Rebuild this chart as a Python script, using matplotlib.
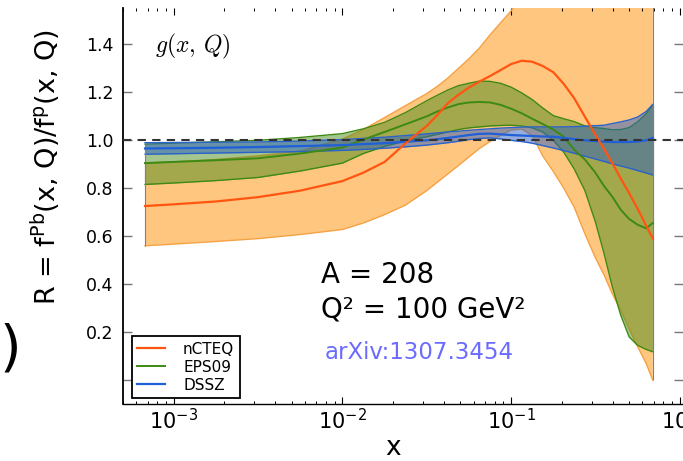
import numpy as np
import matplotlib
matplotlib.use("Agg")
import matplotlib.pyplot as plt
from matplotlib.ticker import LogLocator, NullFormatter

plt.rcParams['font.family'] = ['DejaVu Sans']
plt.rcParams['mathtext.fontset'] = 'dejavusans'

# data (x grid shared by every curve)
x = [6.76e-4, 1.0e-3, 1.78e-3, 3.16e-3, 5.62e-3, 0.0100, 0.0133, 0.0178,
     0.0237, 0.0316, 0.0365, 0.0422, 0.0487, 0.0562, 0.0649, 0.0750, 0.0866,
     0.100, 0.1155, 0.1334, 0.154, 0.178, 0.2054, 0.237, 0.274, 0.316, 0.355,
     0.398, 0.447, 0.501, 0.562, 0.631, 0.692]

ncteq_c  = [0.726, 0.733, 0.745, 0.763, 0.790, 0.830, 0.865, 0.910, 0.988,
            1.060, 1.105, 1.155, 1.190, 1.220, 1.245, 1.268, 1.293, 1.318,
            1.332, 1.328, 1.310, 1.284, 1.235, 1.175, 1.098, 1.023, 0.965,
            0.905, 0.840, 0.780, 0.715, 0.645, 0.590]
ncteq_hi = [0.905, 0.910, 0.920, 0.935, 0.955, 1.005, 1.045, 1.095, 1.145,
            1.195, 1.225, 1.260, 1.300, 1.340, 1.385, 1.440, 1.490, 1.540,
            1.600, 1.660, 1.710, 1.760, 1.800, 1.850, 1.880, 1.910, 1.930,
            1.950, 1.970, 1.980, 1.990, 2.000, 2.000]
ncteq_lo = [0.560, 0.567, 0.578, 0.590, 0.607, 0.628, 0.655, 0.690, 0.730,
            0.790, 0.825, 0.860, 0.895, 0.930, 0.966, 0.995, 1.020, 1.043,
            1.047, 1.020, 0.935, 0.870, 0.800, 0.720, 0.610, 0.510, 0.440,
            0.360, 0.290, 0.213, 0.140, 0.070, 0.000]

eps_c  = [0.905, 0.910, 0.917, 0.925, 0.945, 0.970, 1.003, 1.035, 1.067,
          1.100, 1.120, 1.137, 1.151, 1.158, 1.160, 1.158, 1.148, 1.132,
          1.113, 1.090, 1.068, 1.045, 1.015, 0.960, 0.920, 0.865, 0.810,
          0.765, 0.710, 0.672, 0.648, 0.633, 0.655]
eps_hi = [0.984, 0.988, 0.994, 1.000, 1.012, 1.028, 1.048, 1.075, 1.116,
          1.165, 1.188, 1.210, 1.228, 1.238, 1.247, 1.246, 1.238, 1.222,
          1.198, 1.170, 1.135, 1.103, 1.090, 1.078, 1.060, 1.053, 1.049,
          1.044, 1.045, 1.053, 1.077, 1.110, 1.147]
eps_lo = [0.816, 0.822, 0.832, 0.845, 0.872, 0.905, 0.945, 0.975, 0.998,
          1.015, 1.025, 1.035, 1.045, 1.052, 1.056, 1.060, 1.062, 1.063,
          1.060, 1.052, 1.035, 1.000, 0.950, 0.880, 0.790, 0.660, 0.530,
          0.390, 0.270, 0.180, 0.145, 0.128, 0.118]

dssz_c  = [0.966, 0.967, 0.969, 0.972, 0.976, 0.980, 0.984, 0.988, 0.994,
           1.000, 1.005, 1.010, 1.016, 1.022, 1.027, 1.028, 1.025, 1.022,
           1.020, 1.018, 1.016, 1.015, 1.010, 1.005, 1.000, 0.997, 0.994,
           0.993, 0.993, 0.993, 0.995, 1.000, 1.010]
dssz_hi = [0.990, 0.991, 0.992, 0.993, 0.997, 1.003, 1.008, 1.013, 1.020,
           1.027, 1.031, 1.035, 1.038, 1.042, 1.045, 1.048, 1.051, 1.053,
           1.055, 1.056, 1.056, 1.056, 1.056, 1.057, 1.059, 1.061, 1.063,
           1.070, 1.077, 1.085, 1.097, 1.120, 1.150]
dssz_lo = [0.942, 0.944, 0.947, 0.950, 0.953, 0.958, 0.962, 0.967, 0.973,
           0.980, 0.985, 0.990, 0.996, 1.003, 1.008, 1.010, 1.006, 1.000,
           0.995, 0.988, 0.978, 0.968, 0.957, 0.946, 0.934, 0.922, 0.912,
           0.902, 0.893, 0.884, 0.874, 0.864, 0.855]

yticks = [0.0, 0.2, 0.4, 0.6, 0.8, 1.0, 1.2, 1.4]
ytick_labels = ['', '0.2', '0.4', '0.6', '0.8', '1.0', '1.2', '1.4']
names = ['nCTEQ', 'EPS09', 'DSSZ']

x = np.array(x)

fig = plt.figure(figsize=(6.83, 4.61), dpi=100)
ax = fig.add_axes([0.180, 0.1236, 0.820, 0.858])

# bands
ax.fill_between(x, ncteq_lo, ncteq_hi, color='#ffc680', lw=0, zorder=1)
ax.plot(x, ncteq_hi, color='#f5a244', lw=1.0, zorder=2)
ax.plot(x, ncteq_lo, color='#f5a244', lw=1.0, zorder=2)

ax.fill_between(x, eps_lo, eps_hi, color='#4a8c1c', alpha=0.5, lw=0, zorder=3)
ax.plot(x, eps_hi, color='#3d8a12', lw=1.0, zorder=4)
ax.plot(x, eps_lo, color='#3d8a12', lw=1.0, zorder=4)

ax.fill_between(x, dssz_lo, dssz_hi, color='#2a5fc0', alpha=0.5, lw=0, zorder=5)
ax.plot(x, dssz_hi, color='#2a62cc', lw=1.0, zorder=6)
ax.plot(x, dssz_lo, color='#2a62cc', lw=1.0, zorder=6)

# end caps of the bands
for lo, hi in [(ncteq_lo, ncteq_hi), (eps_lo, eps_hi), (dssz_lo, dssz_hi)]:
    ax.vlines([x[0], x[-1]], [lo[0], lo[-1]], [hi[0], hi[-1]],
              color='#808080', lw=0.8, zorder=6)

# central values
l1, = ax.plot(x, ncteq_c, color='#ff5511', lw=1.6, zorder=8)
l2, = ax.plot(x, eps_c, color='#3d8a12', lw=1.4, zorder=7)
l3, = ax.plot(x, dssz_c, color='#1f5fd8', lw=1.6, zorder=7)

ax.axhline(1.0, color='#333333', lw=1.5, ls=(0, (4, 3)), zorder=9)

ax.set_xscale('log')
ax.set_xlim(5e-4, 1.045)
ax.set_ylim(-0.1, 1.55)
ax.set_yticks(yticks)
ax.set_yticklabels(ytick_labels)
ax.xaxis.set_minor_locator(LogLocator(base=10, subs=np.arange(2, 10)))
ax.xaxis.set_minor_formatter(NullFormatter())

ax.tick_params(axis='both', which='both', direction='in', top=True, right=True)
ax.tick_params(axis='y', which='major', length=6.5, width=1.0, color='#777777',
               labelsize=12.5, pad=7)
ax.tick_params(axis='x', which='major', length=5, width=0.8, labelsize=15, pad=3)
ax.tick_params(axis='x', which='minor', length=2.5, width=0.7)

ax.spines['top'].set_visible(False)
ax.spines['right'].set_visible(False)
ax.spines['left'].set_linewidth(1.3)
ax.spines['bottom'].set_linewidth(1.0)

leg = ax.legend([l1, l2, l3], names, loc='lower left',
                bbox_to_anchor=(0.016, 0.015), borderaxespad=0,
                fontsize=11, handlelength=1.8, handletextpad=1.2,
                labelspacing=0.2, borderpad=0.35, fancybox=False,
                framealpha=1, edgecolor='black')
leg.get_frame().set_linewidth(1.3)
leg.set_zorder(20)

ax.text(0.057, 0.89, r'$g(x,\,Q)$', transform=ax.transAxes, fontsize=17,
        math_fontfamily='cm', va='baseline')
ax.text(0.353, 0.306, 'A = 208', transform=ax.transAxes, fontsize=20,
        va='baseline')
ax.text(0.353, 0.22, 'Q² = 100 GeV²', transform=ax.transAxes, fontsize=20,
        va='baseline')
ax.text(0.36, 0.115, 'arXiv:1307.3454', transform=ax.transAxes, fontsize=16.5,
        color='#6b6bff', va='baseline')

fig.text(46 / 683, 1 - 167 / 461, r'R = f$^{\rm Pb}$(x, Q)/f$^{\rm p}$(x, Q)',
         rotation=90, ha='center', va='center', fontsize=19.5)
fig.text(393 / 683, 1 - 448 / 461, 'x', ha='center', va='center', fontsize=19)
fig.text(0.0, 1 - 349 / 461, ')', ha='left', va='center', fontsize=40)

plt.savefig('out.png', dpi=100)
plt.close()
